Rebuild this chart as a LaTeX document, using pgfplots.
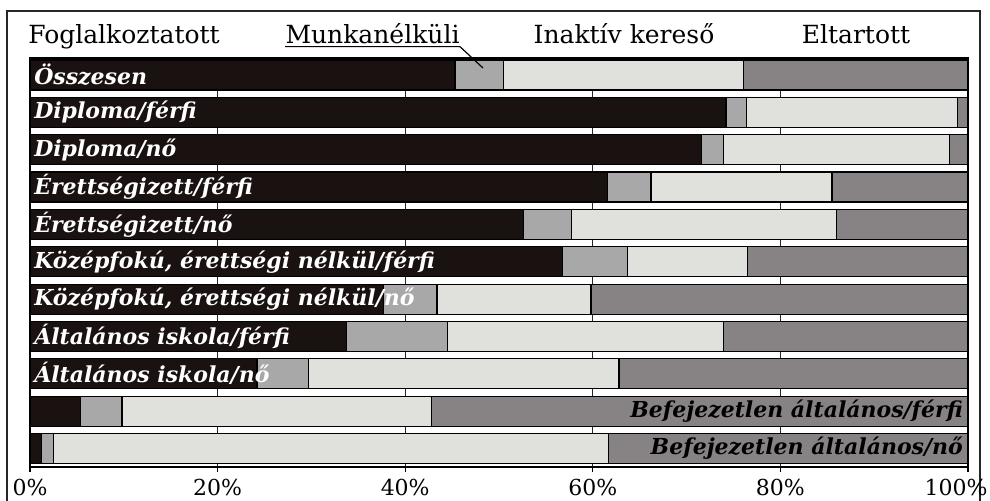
\documentclass[border=0pt]{standalone}
\usepackage{fontspec}
\setmainfont{DejaVu Serif}
\usepackage{pgfplots}
\pgfplotsset{compat=1.18}
\usepackage{pgfplotstable}

\definecolor{emp}{HTML}{1A1210}
\definecolor{unemp}{HTML}{A8A8A8}
\definecolor{inact}{HTML}{E0E0DC}
\definecolor{dep}{HTML}{878384}

\pgfplotstableread{
idx emp unemp inact dep
0  45.3 5.2  25.6 23.9
1  74.2 2.2  22.5 1.1
2  71.6 2.3  24.1 2.0
3  61.6 4.6  19.3 14.5
4  52.6 5.1  28.3 14.0
5  56.8 6.9  12.8 23.5
6  37.7 5.7  16.4 40.2
7  33.7 10.8 29.4 26.1
8  24.2 5.5  33.1 37.2
9  5.4  4.4  33.0 57.2
10 1.2  1.3  59.2 38.3
}\data

\tikzset{blab/.style={font=\fontsize{11}{13}\selectfont\bfseries\itshape, inner sep=1pt}}

\begin{document}
\begin{tikzpicture}
\path[use as bounding box] (0,0) rectangle (495pt,250pt);
\draw[line width=0.8pt, black!85] (3.5pt,-5pt) -- (3.5pt,244.5pt) -- (490pt,244.5pt) -- (490pt,-5pt);
\begin{axis}[
  at={(15pt,16.5pt)}, anchor=south west,
  scale only axis, width=469pt, height=204.5pt,
  xbar stacked, bar width=15pt,
  xmin=0, xmax=100, ymin=-0.455, ymax=10.495, y dir=reverse,
  ytick=\empty,
  xtick={0,20,40,60,80,100},
  xticklabels={0\%,20\%,40\%,60\%,80\%,{\hspace*{-12pt}100\%}},
  xtick pos=left, tick align=outside, major tick length=2.5pt,
  xmajorgrids, major grid style={black!85, line width=0.5pt},
  axis line style={black, line width=0.6pt},
  tick style={black, line width=0.6pt},
  ticklabel style={font=\fontsize{11}{13}\selectfont},
  clip=false,
]
\addplot[fill=emp, draw=black, line width=0.6pt] table[x=emp, y=idx] {\data};
\addplot[fill=unemp, draw=black, line width=0.6pt] table[x=unemp, y=idx] {\data};
\addplot[fill=inact, draw=black, line width=0.6pt] table[x=inact, y=idx] {\data};
\addplot[fill=dep, draw=black, line width=0.6pt] table[x=dep, y=idx] {\data};
\coordinate (l0) at (axis cs:0.2,0);
\coordinate (l1) at (axis cs:0.2,1);
\coordinate (l2) at (axis cs:0.2,2);
\coordinate (l3) at (axis cs:0.2,3);
\coordinate (l4) at (axis cs:0.2,4);
\coordinate (l5) at (axis cs:0.2,5);
\coordinate (l6) at (axis cs:0.2,6);
\coordinate (l7) at (axis cs:0.2,7);
\coordinate (l8) at (axis cs:0.2,8);
\coordinate (r9) at (axis cs:99.7,9);
\coordinate (r10) at (axis cs:99.7,10);
\end{axis}
\node[blab, anchor=west, text=white] at (l0) {Összesen};
\node[blab, anchor=west, text=white] at (l1) {Diploma/férfi};
\node[blab, anchor=west, text=white] at (l2) {Diploma/nő};
\node[blab, anchor=west, text=white] at (l3) {Érettségizett/férfi};
\node[blab, anchor=west, text=white] at (l4) {Érettségizett/nő};
\node[blab, anchor=west, text=white] at (l5) {Középfokú, érettségi nélkül/férfi};
\node[blab, anchor=west, text=white] at (l6) {Középfokú, érettségi nélkül/nő};
\node[blab, anchor=west, text=white] at (l7) {Általános iskola/férfi};
\node[blab, anchor=west, text=white] at (l8) {Általános iskola/nő};
\node[blab, anchor=east, text=black] at (r9) {Befejezetlen általános/férfi};
\node[blab, anchor=east, text=black] at (r10) {Befejezetlen általános/nő};
\node[font=\fontsize{12.5}{14}\selectfont, inner sep=0pt, anchor=base] at (62pt,228.5pt) {Foglalkoztatott};
\node[font=\fontsize{12.5}{14}\selectfont, inner sep=0pt, anchor=base] (mn) at (186.25pt,228.5pt) {Munkanélküli};
\node[font=\fontsize{12.5}{14}\selectfont, inner sep=0pt, anchor=base] at (312pt,228.5pt) {Inaktív kereső};
\node[font=\fontsize{12.5}{14}\selectfont, inner sep=0pt, anchor=base] at (428pt,228.5pt) {Eltartott};
\draw[line width=0.6pt, black] ([yshift=-1.8pt]mn.base west) -- ([yshift=-1.8pt]mn.base east) -- (241.5pt,216pt);
\end{tikzpicture}
\end{document}
